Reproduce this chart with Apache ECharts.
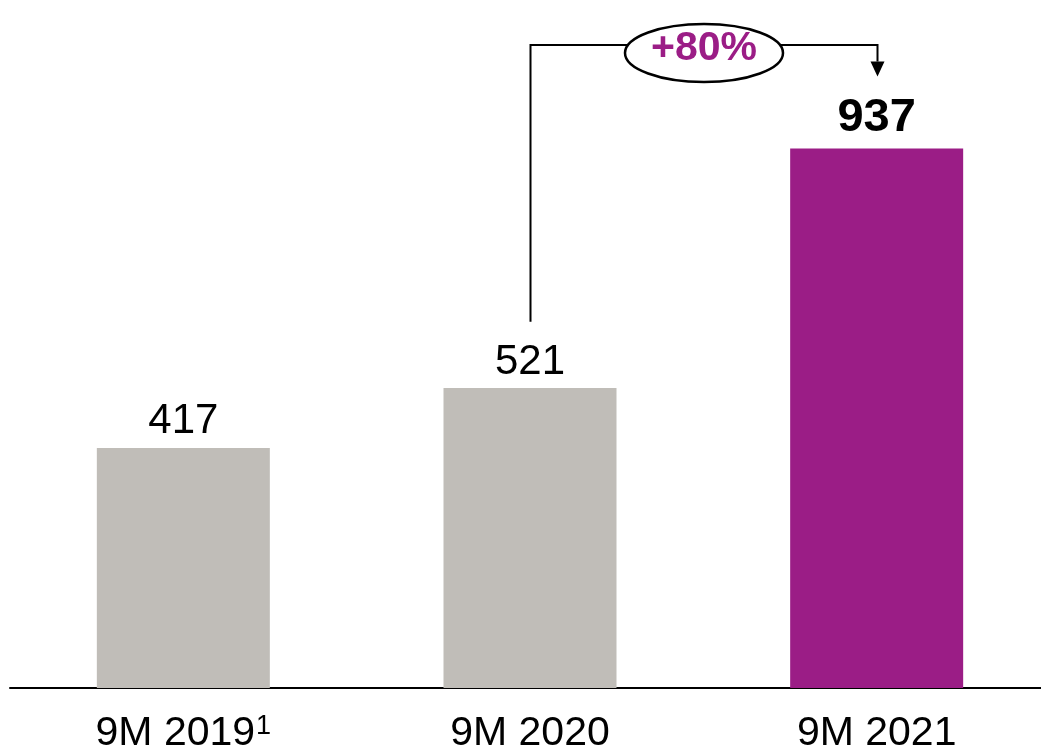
<!DOCTYPE html>
<html>
<head>
<meta charset="utf-8">
<script src="https://cdn.jsdelivr.net/npm/echarts@6/dist/echarts.min.js"></script>
<style>
  html, body { margin: 0; padding: 0; background: #ffffff; }
  #chart { width: 1041px; height: 749px; }
</style>
</head>
<body>
<div id="chart"></div>
<script>
// Periods shown on the x axis and the value for each
const categories = ['9M 2019', '9M 2020', '9M 2021'];
const footnotes = ['1', '', ''];
const values = [417, 521, 937];
const highlight = [false, false, true];

// Growth bracket between the last two periods
const growthLabel = '+80%';
const bracketFrom = 1;       // index of the starting bar
const bracketTo = 2;         // index of the ending bar
const bracketStart = 636;    // value where the left leg begins
const bracketTop = 1117;     // value of the horizontal run
const bracketEnd = 1062;     // value where the arrow tip stops

const GRAY = '#c0bdb8';
const PURPLE = '#9b1d86';
const FONT = '"Liberation Sans", Arial, sans-serif';

const chart = echarts.init(document.getElementById('chart'));

chart.setOption({
  animation: false,
  backgroundColor: '#ffffff',
  grid: { left: 10, width: 1040, top: 0, bottom: 61, containLabel: false, outerBoundsMode: 'none' },
  xAxis: {
    type: 'category',
    data: categories.map((c, i) => footnotes[i] ? c + '|' + footnotes[i] : c),
    axisLine: { show: true, lineStyle: { color: '#000000', width: 2 } },
    axisTick: { show: false },
    axisLabel: {
      margin: 23,
      formatter: v => {
        const parts = v.split('|');
        return parts.length > 1 ? '{a|' + parts[0] + '}{s|' + parts[1] + '}' : '{a|' + parts[0] + '}';
      },
      rich: {
        a: { fontFamily: FONT, fontSize: 41, lineHeight: 46, color: '#000000' },
        s: { fontFamily: FONT, fontSize: 27, lineHeight: 27, color: '#000000', verticalAlign: 'top', padding: [2, 0, 17, 1] }
      }
    }
  },
  yAxis: {
    type: 'value',
    min: 0,
    max: 1195,
    show: false,
    splitLine: { show: false }
  },
  series: [{
    type: 'bar',
    barWidth: 173,
    data: values.map((v, i) => ({
      value: v,
      itemStyle: { color: highlight[i] ? PURPLE : GRAY },
      label: highlight[i]
        ? { fontWeight: 'bold', fontSize: 47, distance: 7 }
        : { fontWeight: 'normal', fontSize: 42, distance: 5 }
    })),
    label: {
      show: true,
      position: 'top',
      color: '#000000',
      fontFamily: FONT
    }
  }]
});

// Bracket with arrow and growth badge, placed through the chart's scales
function drawBracket() {
  const p0 = chart.convertToPixel({ gridIndex: 0 }, [bracketFrom, bracketStart]);
  const pTopL = chart.convertToPixel({ gridIndex: 0 }, [bracketFrom, bracketTop]);
  const pTopR = chart.convertToPixel({ gridIndex: 0 }, [bracketTo, bracketTop]);
  const pEnd = chart.convertToPixel({ gridIndex: 0 }, [bracketTo, bracketEnd]);
  const x0 = Math.round(p0[0]) + 0.5;
  const x1 = Math.round(pTopR[0]) + 0.5;
  const yTop = Math.round(pTopL[1]);
  const cx = (x0 + x1) / 2;
  const cy = yTop + 8;
  const arrowH = 15;

  chart.setOption({
    graphic: [
      {
        type: 'polyline',
        shape: { points: [[x0, p0[1]], [x0, yTop], [x1, yTop], [x1, pEnd[1] - arrowH]] },
        style: { stroke: '#000000', lineWidth: 2, fill: null },
        z: 10
      },
      {
        type: 'polygon',
        shape: { points: [[x1 - 7, pEnd[1] - arrowH], [x1 + 7, pEnd[1] - arrowH], [x1, pEnd[1]]] },
        style: { fill: '#000000' },
        z: 10
      },
      {
        type: 'ellipse',
        shape: { cx: cx, cy: cy, rx: 79, ry: 29 },
        style: { fill: '#ffffff', stroke: '#000000', lineWidth: 2.5 },
        z: 11
      },
      {
        type: 'text',
        x: cx,
        y: cy - 4,
        style: {
          text: growthLabel,
          fill: PURPLE,
          font: 'bold 41px ' + FONT,
          align: 'center',
          verticalAlign: 'middle'
        },
        z: 12
      }
    ]
  });
}
drawBracket();
</script>
</body>
</html>
